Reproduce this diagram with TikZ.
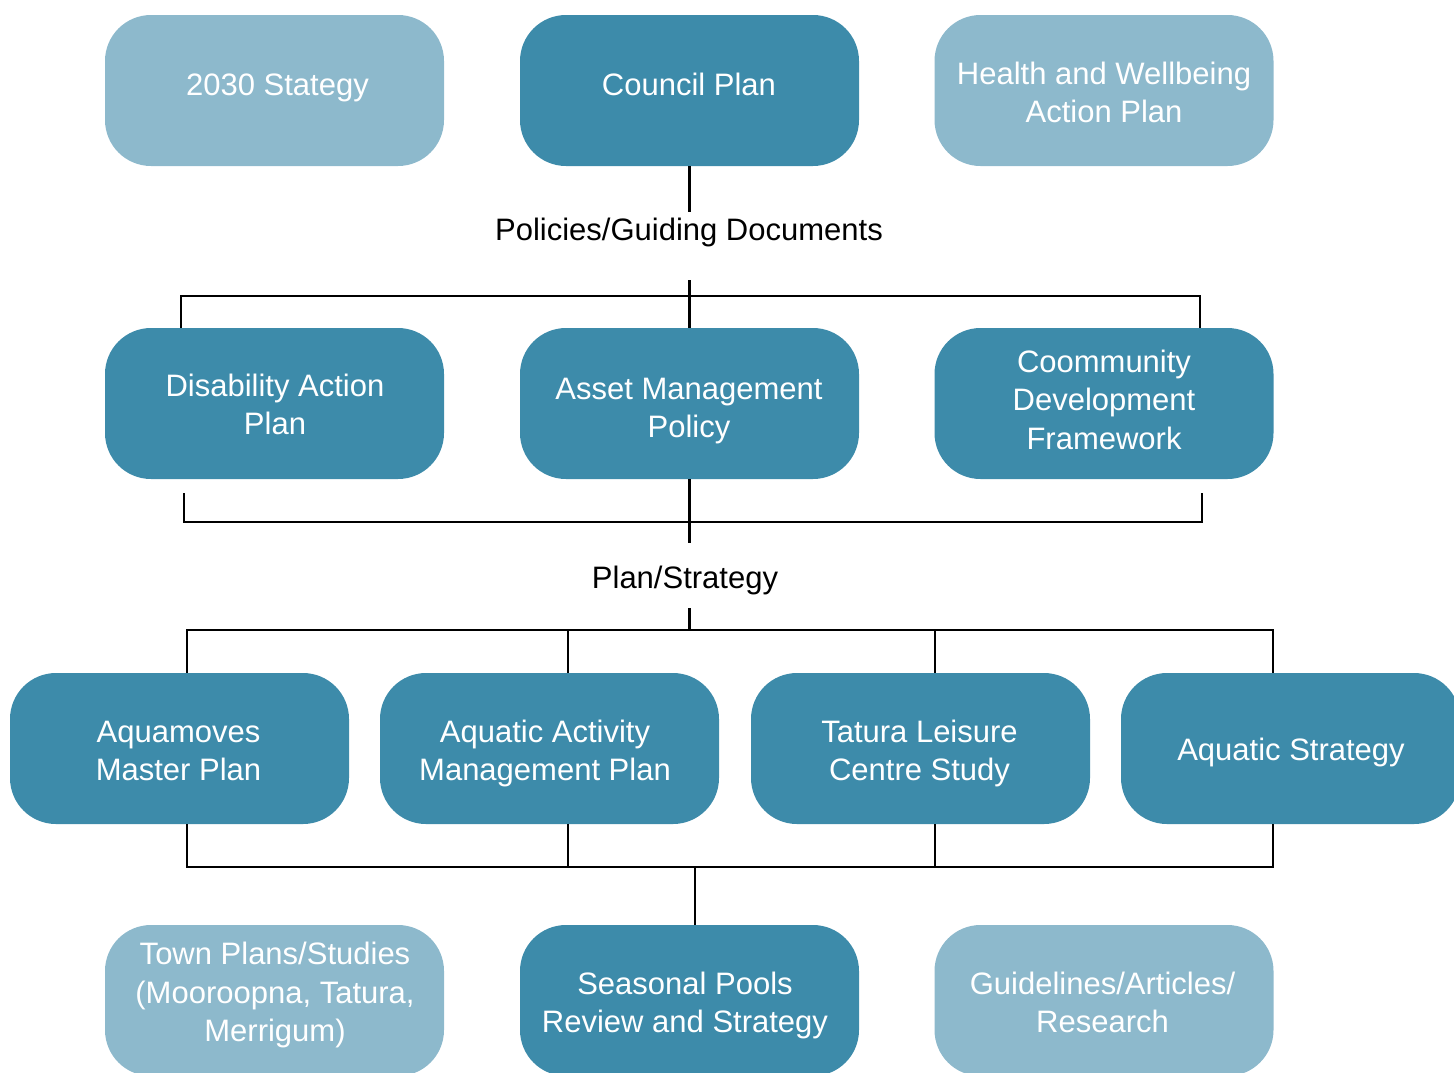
\documentclass[tikz,border=0pt]{standalone}
\usepackage{fontspec}
\setmainfont{Liberation Sans}
\definecolor{darkb}{RGB}{61,139,170}
\definecolor{lightb}{RGB}{141,185,204}
\begin{document}
\begin{tikzpicture}[x=1pt,y=-1pt,
  box/.style={rounded corners=46pt,minimum width=339pt,minimum height=151pt,inner sep=0pt},
  darkbox/.style={box,fill=darkb},
  lightbox/.style={box,fill=lightb},
  txt/.style={align=center,text=white,inner sep=0pt,font=\fontsize{31}{38.5}\selectfont},
  lbl/.style={font=\fontsize{31}{38.5}\selectfont,text=black,inner sep=0pt},
  conn/.style={line width=2.9pt,black}]
\useasboundingbox (0,0) rectangle (1454,1072);
\clip (0,0) rectangle (1454,1072);
% row 1
\node[lightbox] (s2030) at (274.5,90.5) {};
\node[darkbox] (cp) at (689.5,90.5) {};
\node[lightbox] (hwb) at (1104,90.5) {};
\node[txt] (s2030t) at (277.5,88) {2030 Stategy};
\node[txt] (cpt) at (689,84) {Council Plan};
\node[txt] (hwbt) at (1104,92.5) {Health and Wellbeing\\Action Plan};
% row 2
\node[darkbox] (dap) at (274.5,403.5) {};
\node[darkbox] (amp) at (689.5,403.5) {};
\node[darkbox] (cdf) at (1104,403.5) {};
\node[txt] (dapt) at (275,404.5) {Disability Action\\Plan};
\node[txt] (ampt) at (689,411) {Asset Management\\Policy};
\node[txt] (cdft) at (1104,399.5) {Coommunity\\Development\\Framework};
% row 3
\node[darkbox] (aqm) at (179.5,748.5) {};
\node[darkbox] (aam) at (549.5,748.5) {};
\node[darkbox] (tlc) at (920.5,748.5) {};
\node[darkbox] (aqs) at (1290.5,748.5) {};
\node[txt] (aqmt) at (178.5,751) {Aquamoves\\Master Plan};
\node[txt] (aamt) at (545,753.5) {Aquatic Activity\\Management Plan};
\node[txt] (tlct) at (919.5,753.5) {Tatura Leisure\\Centre Study};
\node[txt] (aqst) at (1291,752) {Aquatic Strategy};
% row 4
\node[lightbox] (tps) at (274.5,1000.5) {};
\node[darkbox] (spr) at (689.5,1000.5) {};
\node[lightbox] (gar) at (1104,1000.5) {};
\node[txt] (tpst) at (275,995) {Town Plans/Studies\\(Mooroopna, Tatura,\\Merrigum)};
\node[txt] (sprt) at (685,1005.5) {Seasonal Pools\\Review and Strategy};
\node[txt] (gart) at (1102.5,1002.5) {Guidelines/Articles/\\Research};
% labels
\node[lbl] (pgd) at (689,232) {Policies/Guiding Documents};
\node[lbl] (pls) at (685,580) {Plan/Strategy};
% connectors level 1
\coordinate (a1) at (689.5,212);
\coordinate (a2) at (689.5,280);
\coordinate (j1) at (689.5,296);
\coordinate (b1l) at (181,296);
\coordinate (b1r) at (1200,296);
\draw[conn] (cp.south) -- (a1);
\draw[conn] (a2) -- (j1);
\draw[conn] (b1l |- dap.north) -- (b1l) -- (b1r) -- (b1r |- cdf.north);
\draw[conn] (j1) -- (amp.north);
% connectors level 2
\coordinate (c1l) at (184,493);
\coordinate (b2l) at (184,522);
\coordinate (b2r) at (1202,522);
\coordinate (c1r) at (1202,493);
\coordinate (a3) at (689.5,543);
\draw[conn] (c1l) -- (b2l) -- (b2r) -- (c1r);
\draw[conn] (amp.south) -- (a3);
% connectors level 3
\coordinate (a4) at (689.5,608);
\coordinate (j3) at (689.5,630);
\coordinate (b3l) at (187,630);
\coordinate (b3r) at (1273,630);
\coordinate (k2) at (568,630);
\coordinate (k3) at (935,630);
\draw[conn] (a4) -- (j3);
\draw[conn] (b3l |- aqm.north) -- (b3l) -- (b3r) -- (b3r |- aqs.north);
\draw[conn] (k2) -- (k2 |- aam.north);
\draw[conn] (k3) -- (k3 |- tlc.north);
% connectors level 4
\coordinate (b4l) at (187,867);
\coordinate (b4r) at (1273,867);
\coordinate (m2) at (568,867);
\coordinate (m3) at (935,867);
\coordinate (j4) at (695,867);
\draw[conn] (b4l |- aqm.south) -- (b4l) -- (b4r) -- (b4r |- aqs.south);
\draw[conn] (m2 |- aam.south) -- (m2);
\draw[conn] (m3 |- tlc.south) -- (m3);
\draw[conn] (j4) -- (j4 |- spr.north);
\end{tikzpicture}
\end{document}
